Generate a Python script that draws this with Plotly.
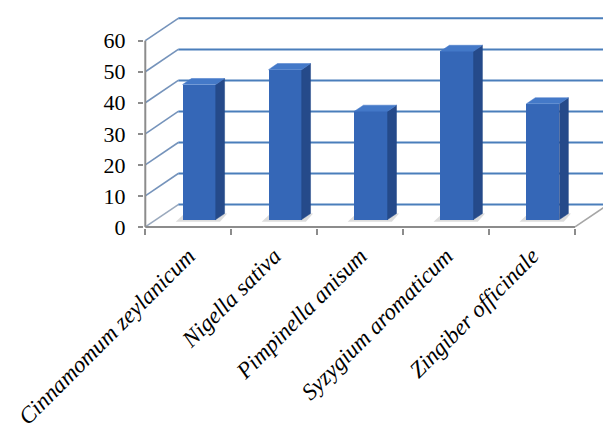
import plotly.graph_objects as go

# ---- data ----
categories = ["Cinnamomum zeylanicum", "Nigella sativa", "Pimpinella anisum",
              "Syzygium aromaticum", "Zingiber officinale"]
values = [43.5, 48.3, 34.9, 54.2, 37.3]
y_ticks = [0, 10, 20, 30, 40, 50, 60]

# ---- geometry (oblique 3-D look) ----
W, H = 603, 429
PX_X = 86.0      # px per category
PX_Y = 3.105     # px per value unit
X0_PX, Y0_PX = 145, 227
XMIN, YMIN = -0.015, -0.35
L = X0_PX + XMIN * PX_X
B = H - (Y0_PX - YMIN * PX_Y)
T = 10
XMAX = (W - X0_PX) / PX_X
YMAX = (Y0_PX - T) / PX_Y
DX = 33 / 86.0   # depth offset (category units)
DY = 7.2         # depth offset (value units)
D0, D1 = 0.33, 0.60
BW = 0.385
n = len(categories)

GRID = "#4a7ebb"
DIAG = "#7593bb"
AXIS = "#8c8c8c"
FRONT = "#3567b7"
SIDE = "#254a8a"
TOP = "#4479c8"
SERIF = "Liberation Serif, Times New Roman, serif"

fig = go.Figure()
shapes = []

# back wall grid lines + left wall diagonals
for v in y_ticks:
    shapes.append(dict(type="line", xref="x", yref="y", layer="below",
                       x0=DX, y0=v + DY, x1=XMAX + 1, y1=v + DY,
                       line=dict(color=GRID, width=2)))
    shapes.append(dict(type="line", xref="x", yref="y", layer="below",
                       x0=0, y0=v, x1=DX, y1=v + DY,
                       line=dict(color=DIAG if v > 0 else "#9aa9bd", width=1.6)))
# right floor edge
shapes.append(dict(type="line", xref="x", yref="y", layer="below",
                   x0=n, y0=0, x1=n + DX * 1.4, y1=DY * 1.4,
                   line=dict(color="#a6a6a6", width=1.6)))

# shadows on the floor
for i, v in enumerate(values):
    xl = i + 0.5 - BW / 2 + D0 * DX
    xr = xl + BW
    sx = -0.08
    p = [(xl + sx, D0 * DY - 0.7), (xr + 0.05, D0 * DY - 0.7),
         (xr + (D1 - D0) * DX + 0.03, D1 * DY),
         (xl + (D1 - D0) * DX + sx, D1 * DY)]
    path = "M " + " L ".join(f"{a},{b}" for a, b in p) + " Z"
    shapes.append(dict(type="path", xref="x", yref="y", layer="below", path=path,
                       fillcolor="#d0d0d0", opacity=0.75, line=dict(width=0)))

# bar front faces
centers = [i + 0.5 + D0 * DX for i in range(n)]
fig.add_trace(go.Bar(x=centers, y=values, base=D0 * DY, width=BW,
                     marker=dict(color=FRONT, line=dict(width=0)),
                     hoverinfo="skip", showlegend=False))

# side + top faces
dd = D1 - D0
for i, v in enumerate(values):
    xl = centers[i] - BW / 2
    xr = centers[i] + BW / 2
    b0 = D0 * DY
    t0 = b0 + v
    fig.add_trace(go.Scatter(
        x=[xr, xr + dd * DX, xr + dd * DX, xr, xr],
        y=[b0, b0 + dd * DY, t0 + dd * DY, t0, b0],
        fill="toself", fillcolor=SIDE, mode="lines",
        line=dict(color=SIDE, width=0.5), hoverinfo="skip", showlegend=False))
    fig.add_trace(go.Scatter(
        x=[xl, xr, xr + dd * DX, xl + dd * DX, xl],
        y=[t0, t0, t0 + dd * DY, t0 + dd * DY, t0],
        fill="toself", fillcolor=TOP, mode="lines",
        line=dict(color=TOP, width=0.5), hoverinfo="skip", showlegend=False))

# front axis lines
fig.add_trace(go.Scatter(x=[0, 0], y=[0, max(y_ticks)], mode="lines",
                         line=dict(color=AXIS, width=2), hoverinfo="skip",
                         showlegend=False))
fig.add_trace(go.Scatter(x=[0, n], y=[0, 0], mode="lines",
                         line=dict(color=AXIS, width=2), hoverinfo="skip",
                         showlegend=False))

fig.update_layout(
    width=W, height=H,
    margin=dict(l=L, r=0, t=T, b=B, pad=0, autoexpand=False),
    paper_bgcolor="white", plot_bgcolor="white",
    shapes=shapes,
    xaxis=dict(range=[XMIN, XMAX], showgrid=False, zeroline=False, showline=False,
               automargin=False,
               tickmode="array", tickvals=[i + 0.5 for i in range(n)],
               ticktext=categories, tickangle=-45, ticks="",
               ticklabelstandoff=9,
               tickfont=dict(family=SERIF, size=23, color="black",
                             style="italic"),
               minor=dict(tickmode="array", tickvals=list(range(n + 1)),
                          ticks="outside", ticklen=6, tickcolor=AXIS, tickwidth=1.5,
                          showgrid=False)),
    yaxis=dict(range=[YMIN, YMAX], showgrid=False, zeroline=False, showline=False,
               automargin=False,
               tickmode="array", tickvals=y_ticks, ticks="outside", ticklen=5,
               tickcolor=AXIS, tickwidth=1.5, ticklabelstandoff=8,
               tickfont=dict(family=SERIF, size=22, color="black")),
    bargap=0,
)

fig.write_html("out.html")
